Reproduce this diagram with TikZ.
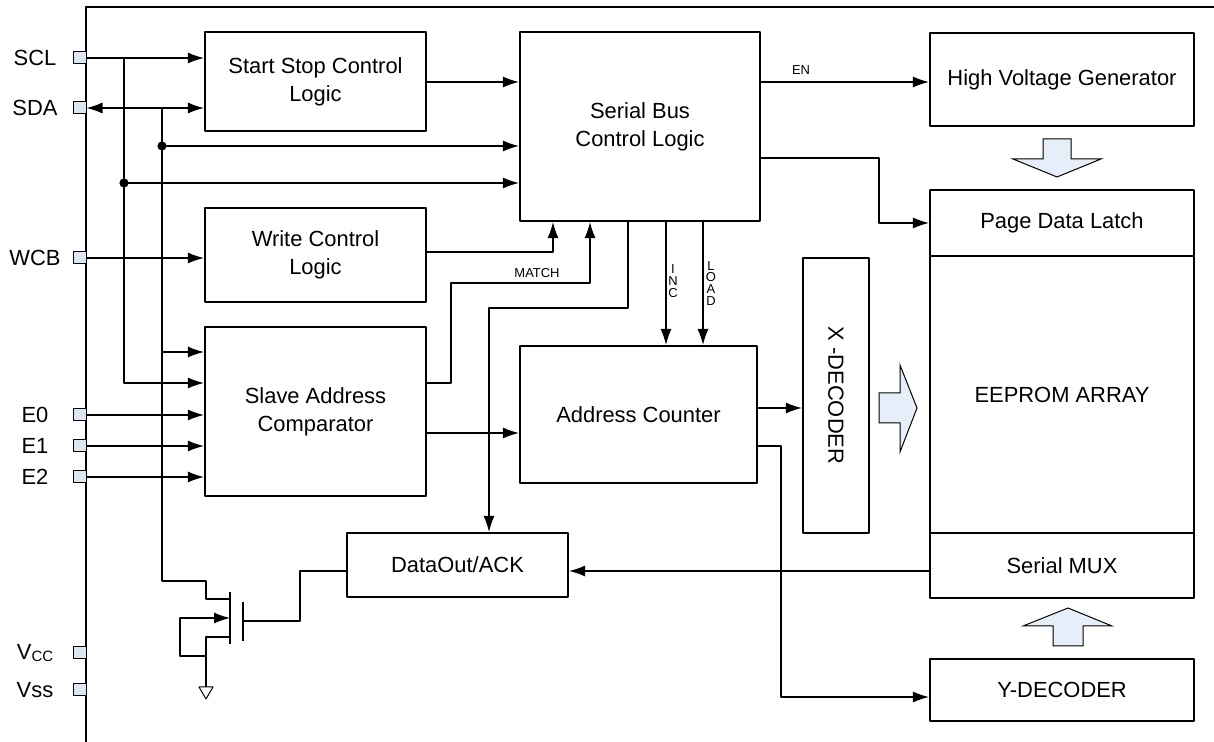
\documentclass[tikz,border=0pt]{standalone}
\usepackage{fontspec}
\setmainfont{Liberation Sans}
\usetikzlibrary{arrows.meta}
\definecolor{pinfill}{HTML}{DCE6F2}
\definecolor{arrowfill}{HTML}{E6EEF9}
\begin{document}
\begin{tikzpicture}[>={Latex[length=8bp,width=5.5bp]},line join=bevel,line width=0.6bp,
  box/.style={draw,line width=1.1bp,inner sep=0pt,align=center,font=\fontsize{11}{14}\selectfont},
  pinbox/.style={draw,fill=pinfill,line width=0.5bp,minimum width=6.5bp,minimum height=6bp,inner sep=0pt},
  pinlabel/.style={inner sep=0pt,font=\fontsize{11}{13}\selectfont},
  sig/.style={inner sep=0pt,align=center,font=\fontsize{6.5}{6}\selectfont},
  blockarrow/.style={draw,fill=arrowfill,line width=0.5bp,line join=miter},]
\useasboundingbox (0bp,0bp) rectangle (607bp,371bp);
%%
\draw (43bp,0bp) -- (43bp,367.5bp) -- (607bp,367.5bp);
%
\node (node_startstop) at (157.75bp,330.25bp) [box,minimum width=110.5bp,minimum height=49.5bp] {Start Stop Control\\Logic};
  \node (node_wcl) at (157.75bp,243.5bp) [box,minimum width=110.5bp,minimum height=47bp] {Write Control\\Logic};
  \node (node_sac) at (157.75bp,165.25bp) [box,minimum width=110.5bp,minimum height=84.5bp] {Slave Address\\Comparator};
  \node (node_serialbus) at (320bp,307.75bp) [box,minimum width=120bp,minimum height=94.5bp] {Serial Bus\\Control Logic};
  \node (node_ac) at (319.25bp,163.75bp) [box,minimum width=118.5bp,minimum height=68.5bp] {Address Counter};
  \node (node_dout) at (228.75bp,88.5bp) [box,minimum width=110.5bp,minimum height=32bp] {DataOut/ACK};
  \node (node_xdec) at (418bp,173.25bp) [box,minimum width=137.5bp,minimum height=33bp,rotate=-90] {X -DECODER};
  \node (node_hvg) at (531bp,331.25bp) [box,minimum width=132bp,minimum height=46.5bp] {High Voltage Generator};
  \node (node_pdl) at (531bp,259.5bp) [box,minimum width=132bp,minimum height=33bp] {Page Data Latch};
  \node (node_array) at (531bp,173.75bp) [box,minimum width=132bp,minimum height=138.5bp] {EEPROM ARRAY};
  \node (node_smux) at (531bp,88.25bp) [box,minimum width=132bp,minimum height=32.5bp] {Serial MUX};
  \node (node_ydec) at (531bp,26bp) [box,minimum width=132bp,minimum height=31bp] {Y-DECODER};
%
\node (pin_scl) at (39.75bp,342bp) [pinbox] {};
  \node (pin_sda) at (39.75bp,317bp) [pinbox] {};
  \node (pin_wcb) at (39.75bp,242bp) [pinbox] {};
  \node (pin_e0) at (39.75bp,163.5bp) [pinbox] {};
  \node (pin_e1) at (39.75bp,148bp) [pinbox] {};
  \node (pin_e2) at (39.75bp,132.5bp) [pinbox] {};
  \node (pin_vcc) at (39.75bp,44.5bp) [pinbox] {};
  \node (pin_vss) at (39.75bp,26bp) [pinbox] {};
  \node (lbl_scl) at (17.5bp,342bp) [pinlabel] {SCL};
  \node (lbl_sda) at (17.5bp,317bp) [pinlabel] {SDA};
  \node (lbl_wcb) at (17.5bp,242bp) [pinlabel] {WCB};
  \node (lbl_e0) at (17.5bp,163.5bp) [pinlabel] {E0};
  \node (lbl_e1) at (17.5bp,148bp) [pinlabel] {E1};
  \node (lbl_e2) at (17.5bp,132.5bp) [pinlabel] {E2};
  \node (lbl_vcc) at (17.5bp,44.5bp) [pinlabel] {V\raisebox{-1bp}{\fontsize{7.5}{7.5}\selectfont CC}};
  \node (lbl_vss) at (17.5bp,26bp) [pinlabel] {Vss};
%
\coordinate (scl_tap) at (62bp,342bp);
  \coordinate (scl_dot) at (62bp,279.5bp);
  \coordinate (sda_tap) at (81bp,317bp);
  \coordinate (sda_dot) at (81bp,298bp);
  \coordinate (mos_d) at (115bp,71.5bp);
  \coordinate (mos_s) at (115bp,52.5bp);
  \coordinate (mos_b) at (115bp,62bp);
  \coordinate (mos_g) at (121.5bp,60.5bp);
  \coordinate (gnd) at (103bp,27.5bp);
%
\draw [->] (pin_scl.east) -- (pin_scl.east -| node_startstop.west);
  \draw [<->] (pin_sda.east) -- (pin_sda.east -| node_startstop.west);
  \draw [->] (pin_wcb.east) -- (pin_wcb.east -| node_wcl.west);
  \draw [->] (pin_e0.east) -- (pin_e0.east -| node_sac.west);
  \draw [->] (pin_e1.east) -- (pin_e1.east -| node_sac.west);
  \draw [->] (pin_e2.east) -- (pin_e2.east -| node_sac.west);
  \draw [->] (scl_tap) |- (node_sac.west |- 0,179.5bp);
  \draw [->] (sda_tap) |- (node_sac.west |- 0,195bp);
  \draw [->] (scl_dot) -- (node_serialbus.west |- scl_dot);
  \draw [->] (sda_dot) -- (node_serialbus.west |- sda_dot);
  \fill (scl_dot) circle (2.3bp);
  \fill (sda_dot) circle (2.3bp);
  \draw (sda_tap) |- (103bp,80.5bp) |- (mos_d);
%
\draw [->] (node_startstop.east |- 0,330bp) -- (node_serialbus.west |- 0,330bp);
  \draw [->] (node_wcl.east |- 0,245bp) -| (node_serialbus.south -| 276.5bp,0);
  \draw [->] (node_sac.east |- 0,179.5bp) -| (225.5bp,229.5bp) -| (node_serialbus.south -| 295bp,0);
  \node (lbl_match) at (268.5bp,234.5bp) [sig] {MATCH};
  \draw [->] (node_sac.east |- 0,154.5bp) -- (node_ac.west |- 0,154.5bp);
  \draw [->] (node_serialbus.south -| 314bp,0) |- (244.5bp,217bp) -- (node_dout.north -| 244.5bp,0);
  \draw [->] (node_serialbus.south -| 333bp,0) -- (node_ac.north -| 333bp,0);
  \draw [->] (node_serialbus.south -| 351.5bp,0) -- (node_ac.north -| 351.5bp,0);
  \node (lbl_inc) at (336.5bp,230.5bp) [sig] {I\\N\\C};
  \node (lbl_load) at (355.5bp,229.25bp) [sig] {L\\O\\A\\D};
  \draw [->] (node_serialbus.east |- 0,330bp) -- (node_hvg.west |- 0,330bp);
  \node (lbl_en) at (400.5bp,336bp) [sig] {EN};
  \draw [->] (node_serialbus.east |- 0,292bp) -| (439.5bp,259.5bp) -- (node_pdl.west);
  \draw [->] (node_ac.east |- 0,167bp) -- (node_xdec.south |- 0,167bp);
  \draw [->] (node_ac.east |- 0,148bp) -| (390.5bp,22.5bp) -- (node_ydec.west |- 0,22.5bp);
  \draw [->] (node_smux.west |- 0,85.5bp) -- (node_dout.east |- 0,85.5bp);
  \draw (node_dout.west |- 0,85.5bp) -| (150bp,60.5bp) -- (mos_g);
%
\draw [line width=1.3bp] (115bp,75bp) -- (115bp,49bp);
  \draw [line width=1.3bp] (121.5bp,70bp) -- (121.5bp,50.5bp);
  \draw (mos_s) -| (103bp,43bp) -- (gnd);
  \draw [->] (103bp,43bp) -| (90bp,62bp) -- (mos_b);
  \draw [fill=white,line width=0.5bp] (99.5bp,27.5bp) -- (106.5bp,27.5bp) -- (103bp,21.5bp) -- cycle;
%
\draw [blockarrow] (521.5bp,301.5bp) -- (535.5bp,301.5bp) -- (535.5bp,291.5bp) -- (550.5bp,291.5bp) -- (528.5bp,282.5bp) -- (506.5bp,291.5bp) -- (521.5bp,291.5bp) -- cycle;
  \draw [blockarrow] (526.5bp,48bp) -- (541.5bp,48bp) -- (541.5bp,58bp) -- (556bp,58bp) -- (534bp,67bp) -- (511.5bp,58bp) -- (526.5bp,58bp) -- cycle;
  \draw [blockarrow] (439.5bp,159.5bp) -- (450bp,159.5bp) -- (450bp,145bp) -- (458.5bp,167bp) -- (450bp,188.5bp) -- (450bp,174.5bp) -- (439.5bp,174.5bp) -- cycle;
%
\end{tikzpicture}
\end{document}
